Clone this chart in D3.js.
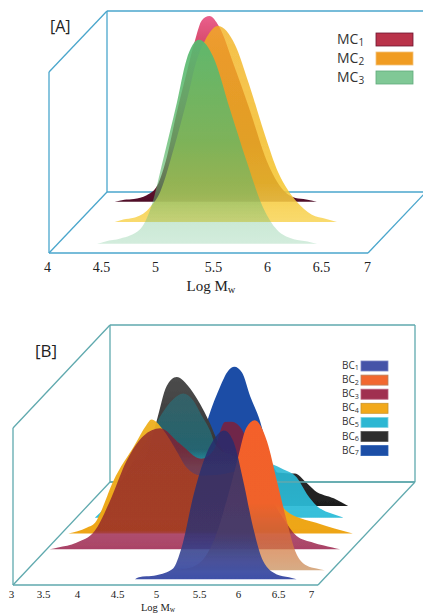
<!DOCTYPE html>
<html>
<head>
<meta charset="utf-8">
<script src="https://cdn.jsdelivr.net/npm/d3@7"></script>
<style>
  html, body { margin: 0; padding: 0; background: #fff; }
  svg { display: block; }
</style>
</head>
<body>
<div id="chart"></div>
<script>
// Panel A - MC samples
const mcTicks = [4, 4.5, 5, 5.5, 6, 6.5, 7];
const mc1Log = [4.16, 4.25, 4.34, 4.46, 4.56, 4.65, 4.74, 4.84, 4.92, 4.98, 5.05, 5.14, 5.28, 5.43, 5.59, 5.75, 5.86, 5.96, 6.06];
const mc1Val = [0, 1, 1.4, 3.2, 8, 22, 43, 64, 80, 89, 91, 86, 67, 45, 20, 5.4, 1.8, 1.1, 0];
const mc2Log = [4.34, 4.42, 4.52, 4.66, 4.77, 4.89, 5.02, 5.11, 5.19, 5.31, 5.47, 5.6, 5.75, 5.88, 5.97, 6.05, 6.19, 6.33, 6.43];
const mc2Val = [0, 1.2, 2, 6.5, 15, 35, 60, 79, 89, 96, 87, 68, 43, 24, 15.5, 10, 3.6, 1.4, 0];
const mc3Log = [4.37, 4.45, 4.59, 4.77, 4.88, 4.99, 5.12, 5.21, 5.33, 5.46, 5.62, 5.78, 5.93, 6.06, 6.22, 6.35, 6.44];
const mc3Val = [0, 1.2, 2.6, 6.9, 18.3, 41, 69, 90, 100, 92, 66, 40, 18, 7, 2.3, 1.2, 0];

// Panel B - BC samples
const bcTicks = [3, 3.5, 4, 4.5, 5, 5.5, 6, 6.5, 7];
const bc1Log = [4.53, 4.58, 4.68, 4.81, 5.03, 5.14, 5.3, 5.43, 5.56, 5.7, 5.82, 5.95, 6.08, 6.21, 6.39, 6.55, 6.65];
const bc1Val = [0, 1.4, 2, 2.8, 7.3, 21, 56.7, 78.9, 93, 99.3, 92, 65.6, 34.4, 12.2, 3.3, 1.4, 0];
const bc2Log = [4.86, 5.1, 5.27, 5.45, 5.62, 5.77, 5.88, 5.99, 6.15, 6.28, 6.41, 6.52, 6.67, 6.8, 6.91];
const bc2Val = [0, 1.3, 5.1, 19.6, 46, 75, 95, 100, 86, 59.6, 32.9, 12.9, 3.2, 1.2, 0];
const bc3Log = [3.04, 3.15, 3.39, 3.63, 3.83, 4.05, 4.27, 4.49, 4.75, 5.03, 5.19, 5.34, 5.43, 5.56, 5.71, 5.89, 6.1, 6.28, 6.5, 6.75, 6.85];
const bc3Val = [0, 1.2, 4.4, 12.2, 32, 59, 75.6, 80.7, 70.4, 60.4, 66, 84.9, 85, 80, 59, 39, 21, 8.9, 4.4, 1.2, 0];
const bc4Log = [3.09, 3.33, 3.44, 3.5, 3.68, 3.96, 4.11, 4.18, 4.33, 4.51, 4.64, 4.83, 5.08, 5.34, 5.69, 5.95, 6.34, 6.82];
const bc4Val = [0, 3.8, 7.1, 12.7, 35, 59, 72, 76, 69.3, 54.9, 44, 38.7, 39.3, 41.6, 35, 15, 7.1, 0];
const bc5Log = [3.24, 3.31, 3.48, 3.75, 3.97, 4.12, 4.27, 4.4, 4.53, 4.64, 4.75, 4.83, 5.06, 5.32, 5.57, 5.71, 5.89, 6.02, 6.15, 6.46, 6.5];
const bc5Val = [0, 3.3, 15.6, 37.8, 55.6, 69.3, 78.9, 82.7, 78.2, 68.2, 58.2, 48.2, 41, 38, 35.6, 32.2, 26.7, 16, 8, 0.8, 0];
const bc6Log = [3.3, 3.56, 3.78, 3.91, 4.04, 4.17, 4.35, 4.48, 4.59, 4.74, 5, 5.35, 5.61, 5.72, 5.87, 5.98, 6.23, 6.42];
const bc6Val = [0, 10, 34.4, 57, 80, 86, 78.2, 67.8, 57, 40, 27.8, 23.3, 21.8, 21.6, 15.6, 10.4, 5.1, 0];
const bc7Log = [3.97, 4.14, 4.27, 4.38, 4.53, 4.64, 4.72, 4.82, 4.93, 5.04, 5.21, 5.37, 5.5];
const bc7Val = [0, 12, 29, 48, 68, 79, 81.6, 77.8, 61.6, 48, 17.8, 5.6, 0];

const width = 423;
const height = 614;

const svg = d3.select("#chart").append("svg")
  .attr("width", width)
  .attr("height", height);
const defs = svg.append("defs");
defs.append("filter").attr("id", "soft")
  .append("feGaussianBlur").attr("stdDeviation", 0.35);

function makeGradient(id, stops) {
  defs.append("linearGradient")
    .attr("id", id)
    .attr("x1", 0).attr("y1", 0).attr("x2", 0).attr("y2", 1)
    .selectAll("stop")
    .data(stops)
    .join("stop")
    .attr("offset", (d) => d[0])
    .attr("stop-color", (d) => d[1])
    .attr("stop-opacity", (d) => d[2]);
}

// name + subscript, e.g. MC + 1
function subLabel(sel, base, sub, subSize) {
  sel.append("tspan").text(base);
  sel.append("tspan").attr("dy", "0.2em").attr("font-size", subSize).text(sub);
}

function drawPanel(p) {
  const g = svg.append("g");
  const x = d3.scaleLinear().domain(d3.extent(p.ticks)).range([p.left, p.right]);
  const h = d3.scaleLinear().domain([0, 100]).range([0, p.maxHeight]);
  const labelX = d3.scaleLinear().domain(p.ticks).range(p.tickPos);

  const x0 = x.range()[0];
  const x1 = x.range()[1];
  const top = p.bottom - p.wall;
  const frame = [
    [x0, p.bottom, x0, top],
    [x0, top, x0 + p.depthX, top - p.depthY],
    [x0, p.bottom, x0 + p.depthX, p.bottom - p.depthY],
    [x0 + p.depthX, p.bottom - p.depthY, x0 + p.depthX, top - p.depthY],
    [x0 + p.depthX, top - p.depthY, x1 + p.depthX, top - p.depthY],
    [x1 + p.depthX, top - p.depthY, x1 + p.depthX, p.bottom - p.depthY],
    [x0, p.bottom, x1, p.bottom],
    [x1, p.bottom, x1 + p.depthX, p.bottom - p.depthY],
    [x0 + p.depthX, p.bottom - p.depthY, x1 + p.depthX, p.bottom - p.depthY],
  ];
  const frameLine = (sel, rows) =>
    sel.selectAll("line")
      .data(rows)
      .join("line")
      .attr("x1", (d) => d[0]).attr("y1", (d) => d[1])
      .attr("x2", (d) => d[2]).attr("y2", (d) => d[3])
      .attr("stroke", p.frameColor)
      .attr("stroke-width", 1.3);
  g.append("g").call(frameLine, frame);

  const marks = g.append("g").attr("filter", "url(#soft)");
  p.series.forEach((s) => {
    makeGradient(s.id, s.stops);
    const dx = s.depth * p.depthX;
    const base = p.bottom - s.depth * p.depthY;
    const area = d3.area()
      .x((d) => x(d[0]) + dx)
      .y0(base)
      .y1((d) => base - h(d[1]))
      .curve(d3.curveMonotoneX);
    marks.append("path")
      .datum(d3.zip(s.logs, s.vals))
      .attr("d", area)
      .attr("fill", `url(#${s.id})`);
    if (p.floorAfter === s.id) {
      marks.append("g").call(frameLine, [frame[8]]);
    }
  });

  // tick labels are hand placed in the original, so use the piecewise scale
  const axis = g.append("g")
    .attr("transform", `translate(0,${p.tickY})`)
    .call(d3.axisBottom(labelX).tickValues(p.ticks).tickSize(0).tickPadding(0).tickFormat(d3.format("")));
  axis.select(".domain").remove();
  axis.selectAll("text")
    .attr("dy", 0)
    .attr("font-family", "'Liberation Serif', serif")
    .attr("font-size", p.tickSize)
    .attr("fill", "#222");

  const title = g.append("text")
    .attr("x", p.titleX)
    .attr("y", p.titleY)
    .attr("text-anchor", "middle")
    .attr("font-family", "'Liberation Serif', serif")
    .attr("font-size", p.titleSize)
    .attr("fill", "#222");
  subLabel(title, "Log M", "w", p.titleSize * 0.7);

  g.append("text")
    .attr("x", p.tagX)
    .attr("y", p.tagY)
    .attr("font-family", "'Open Sans', sans-serif")
    .attr("font-size", p.tagSize)
    .attr("fill", "#222")
    .text(p.tag);

  const legend = g.append("g");
  p.series.slice().sort((a, b) => d3.ascending(a.id, b.id)).forEach((s, i) => {
    const y = p.legendY + i * p.legendStep;
    const label = legend.append("text")
      .attr("x", p.legendTextX)
      .attr("y", y + p.swatchH * 0.5 + p.legendFont * 0.3)
      .attr("font-family", "'Open Sans', sans-serif")
      .attr("font-size", p.legendFont)
      .attr("fill", "#333");
    subLabel(label, s.name, s.sub, p.legendFont * 0.72);
    legend.append("rect")
      .attr("x", p.swatchX)
      .attr("y", y)
      .attr("width", p.swatchW)
      .attr("height", p.swatchH)
      .attr("fill", s.swatch)
      .attr("stroke", s.swatchEdge)
      .attr("stroke-width", 0.8);
  });
}

drawPanel({
  tag: "[A]", tagX: 50, tagY: 32, tagSize: 16,
  ticks: mcTicks,
  tickPos: [47, 101, 155, 213, 267, 321, 367],
  left: 49, right: 368, bottom: 253, wall: 181, depthX: 58, depthY: 61,
  maxHeight: 204, frameColor: "#4aa6cc",
  tickY: 272, tickSize: 14, titleX: 211, titleY: 291, titleSize: 15,
  legendTextX: 337, legendFont: 14, legendY: 33, legendStep: 19,
  swatchX: 376, swatchW: 37, swatchH: 13,
  series: [
    { id: "mc1", name: "MC", sub: "1", depth: 0.84, logs: mc1Log, vals: mc1Val,
      swatch: "#b9334a", swatchEdge: "#6d1530",
      stops: [[0, "#ea5f8c", 1], [0.25, "#c93c56", 1], [0.75, "#8a1f3a", 1], [1, "#4f0c28", 1]] },
    { id: "mc2", name: "MC", sub: "2", depth: 0.51, logs: mc2Log, vals: mc2Val,
      swatch: "#f09c22", swatchEdge: "#f3c27a",
      stops: [[0, "#f2b01c", 0.78], [0.6, "#f3bb22", 0.82], [0.8, "#f5c52a", 0.85], [1, "#f8d65e", 0.9]] },
    { id: "mc3", name: "MC", sub: "3", depth: 0.15, logs: mc3Log, vals: mc3Val,
      swatch: "#80c896", swatchEdge: "#5faa7a",
      stops: [[0, "#58b970", 0.95], [0.5, "#5cb96a", 0.75], [0.75, "#5fba70", 0.55], [0.9, "#6ac088", 0.35], [1, "#80c99c", 0.35]] },
  ],
});

drawPanel({
  tag: "[B]", tagX: 35, tagY: 357, tagSize: 17,
  ticks: bcTicks,
  tickPos: [11, 43, 77, 117, 156, 199, 238, 278, 311],
  left: 13, right: 318, bottom: 585, wall: 157, depthX: 97, depthY: 103,
  maxHeight: 150, frameColor: "#5fa9ae", floorAfter: "bc5",
  tickY: 597.5, tickSize: 11, titleX: 158, titleY: 610.5, titleSize: 10.5,
  legendTextX: 342, legendFont: 10, legendY: 361, legendStep: 14.1,
  swatchX: 361, swatchW: 27, swatchH: 10,
  series: [
    { id: "bc7", name: "BC", sub: "7", depth: 0.93, logs: bc7Log, vals: bc7Val,
      swatch: "#1c4ea6", swatchEdge: "#2a5fb5",
      stops: [[0, "#1c4ea6", 1], [1, "#1c4ea6", 1]] },
    { id: "bc6", name: "BC", sub: "6", depth: 0.767, logs: bc6Log, vals: bc6Val,
      swatch: "#2e2e2e", swatchEdge: "#555",
      stops: [[0, "#4c4c4c", 1], [0.6, "#333", 1], [1, "#1e1e1e", 1]] },
    { id: "bc5", name: "BC", sub: "5", depth: 0.654, logs: bc5Log, vals: bc5Val,
      swatch: "#2cb7d3", swatchEdge: "#7fd3e3",
      stops: [[0, "#0f9fb0", 0.3], [0.45, "#129fb8", 0.45], [0.6, "#2cb8d4", 0.9], [1, "#2cbcd8", 0.95]] },
    { id: "bc4", name: "BC", sub: "4", depth: 0.5, logs: bc4Log, vals: bc4Val,
      swatch: "#f2a91b", swatchEdge: "#c9952e",
      stops: [[0, "#eeb020", 0.95], [1, "#eea515", 1]] },
    { id: "bc3", name: "BC", sub: "3", depth: 0.346, logs: bc3Log, vals: bc3Val,
      swatch: "#a03050", swatchEdge: "#b8607a",
      stops: [[0, "#8a1a2c", 0.76], [0.85, "#8a1a2a", 0.74], [0.88, "#a02f55", 0.85], [1, "#a02f55", 0.9]] },
    { id: "bc2", name: "BC", sub: "2", depth: 0.142, logs: bc2Log, vals: bc2Val,
      swatch: "#f2682f", swatchEdge: "#b5825f",
      stops: [[0, "#f4612a", 1], [0.55, "#f0622a", 1], [0.78, "#d9703a", 0.75], [1, "#c9905c", 0.75]] },
    { id: "bc1", name: "BC", sub: "1", depth: 0.055, logs: bc1Log, vals: bc1Val,
      swatch: "#4553a8", swatchEdge: "#7c86c4",
      stops: [[0, "#262c6c", 0.84], [0.7, "#2a3274", 0.82], [0.88, "#3c4a9c", 0.92], [1, "#3f50a8", 1]] },
  ],
});
</script>
</body>
</html>
